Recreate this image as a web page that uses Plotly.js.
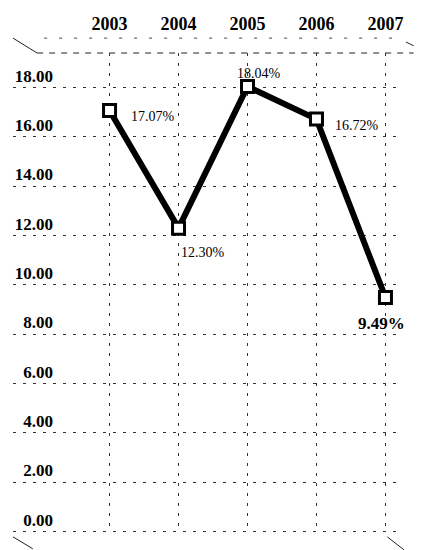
<!DOCTYPE html>
<html>
<head>
<meta charset="utf-8">
<script src="https://cdn.plot.ly/plotly-3.0.1.min.js"></script>
<style>html,body{margin:0;padding:0;background:#fff;}#chart{width:426px;height:550px;}</style>
</head>
<body>
<div id="chart"></div>
<script>
// ---- data ----
const years = ['2003', '2004', '2005', '2006', '2007'];
const rates = [17.07, 12.30, 18.04, 16.72, 9.49];
const rateLabels = ['17.07%', '12.30%', '18.04%', '16.72%', '9.49%'];
const yTicks = [0, 2, 4, 6, 8, 10, 12, 14, 16, 18];

// ---- label placement (style only) ----
const labelStyle = [
  {xanchor: 'left', xshift: 19, yshift: -6, size: 14, bold: false},
  {xanchor: 'center', xshift: 24, yshift: -24, size: 14, bold: false},
  {xanchor: 'center', xshift: 11, yshift: 13, size: 14, bold: false},
  {xanchor: 'left', xshift: 17, yshift: -6, size: 14, bold: false},
  {xanchor: 'center', xshift: -4, yshift: -26, size: 17, bold: true}
];

const serif = 'Liberation Serif, Times New Roman, serif';

const trace = {
  x: years, y: rates, type: 'scatter', mode: 'lines+markers',
  line: {color: '#000', width: 6},
  marker: {symbol: 'square', size: 12, color: '#fff', line: {color: '#000', width: 3}},
  hoverinfo: 'skip', showlegend: false
};

const annotations = years.map((yr, i) => ({
  x: i, y: rates[i], xref: 'x', yref: 'y',
  text: labelStyle[i].bold ? '<b>' + rateLabels[i] + '</b>' : rateLabels[i], showarrow: false,
  xanchor: labelStyle[i].xanchor, yanchor: 'middle',
  xshift: labelStyle[i].xshift, yshift: labelStyle[i].yshift,
  font: {family: serif, size: labelStyle[i].size, color: '#000'}
}));

const frame = {type: 'line', xref: 'paper', yref: 'paper', line: {color: '#222', width: 1}};
const shapes = [
  Object.assign({}, frame, {x0: 0.062, x1: 1.03, y0: 1, y1: 1, line: {color: '#222', width: 1.2, dash: '6px,6px'}}),
  Object.assign({}, frame, {x0: 0.08, x1: 1.0, y0: 1.031, y1: 1.031, line: {color: '#444', width: 1, dash: '3px,12px'}}),
  Object.assign({}, frame, {x0: 0, x1: 0.062, y0: 1.031, y1: 1}),
  Object.assign({}, frame, {x0: 1.01, x1: 1.03, y0: 1.023, y1: 1.015}),
  Object.assign({}, frame, {x0: 0, x1: 0.051, y0: -0.008, y1: -0.033}),
  Object.assign({}, frame, {x0: 0.962, x1: 1.005, y0: -0.008, y1: -0.035})
];

const layout = {
  width: 426, height: 550,
  margin: {l: 13, r: 24, t: 53, b: 17},
  paper_bgcolor: '#fff', plot_bgcolor: '#fff',
  showlegend: false,
  xaxis: {
    type: 'category', range: [-1.4, 4.24], side: 'top', ticks: '', zeroline: false, showline: false,
    showgrid: true, gridcolor: '#333', gridwidth: 1, griddash: '3px,7px',
    ticklabelstandoff: 18,
    tickfont: {family: serif, size: 18, color: '#000', weight: 'bold'}
  },
  yaxis: {
    range: [-0.06, 19.4], tickmode: 'array', tickvals: yTicks,
    ticktext: yTicks.map(v => v.toFixed(2)),
    ticklabelposition: 'outside top', ticklabelstandoff: -41,
    ticks: '', zeroline: false, showline: false,
    showgrid: true, gridcolor: '#333', gridwidth: 1, griddash: '3px,7px',
    tickfont: {family: serif, size: 17, color: '#000', weight: 'bold'}
  },
  annotations: annotations,
  shapes: shapes
};

Plotly.newPlot('chart', [trace], layout, {staticPlot: true, displayModeBar: false});
</script>
</body>
</html>
